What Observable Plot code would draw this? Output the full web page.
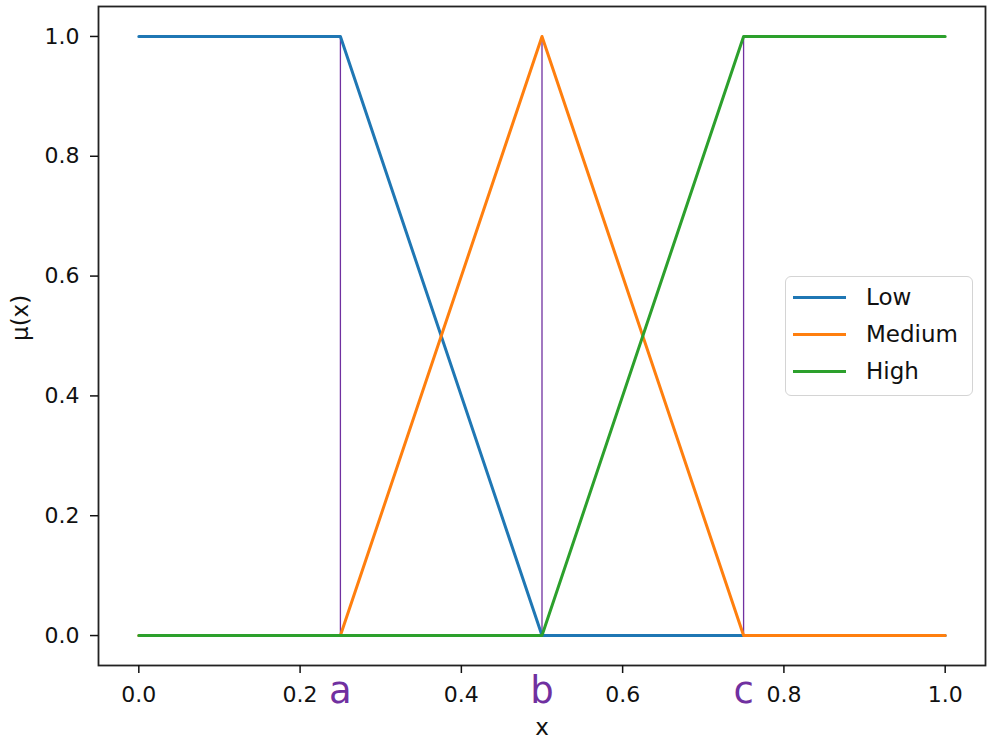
<!DOCTYPE html>
<html>
<head>
<meta charset="utf-8">
<script src="https://cdn.jsdelivr.net/npm/d3@7"></script>
<script src="https://cdn.jsdelivr.net/npm/@observablehq/plot@0.6"></script>
<style>
  body { margin: 0; background: #fff; }
  #wrap { position: relative; width: 995px; height: 742px; font-family: "DejaVu Sans", sans-serif; }
  .legend { position: absolute; left: 785px; top: 276px; width: 188px; height: 120px; box-sizing: border-box;
    border: 1.5px solid #d4d4d4; border-radius: 6px; background: rgba(255,255,255,0.8); }
  .legend .row { position: absolute; left: 7px; height: 26px; margin-top: -13px; display: flex; align-items: center; font-size: 23px; color: #111; white-space: nowrap; }
  .legend .sw { width: 53px; height: 0; border-top: 3px solid; margin-right: 20px; }
</style>
</head>
<body>
<div id="wrap"></div>
<script>
const xTicks = [0, 0.2, 0.4, 0.6, 0.8, 1.0];
const yTicks = [0, 0.2, 0.4, 0.6, 0.8, 1.0];
const seriesNames = ["Low", "Medium", "High"];
const seriesColors = ["#1f77b4", "#ff7f0e", "#2ca02c"];
const lowX = [0, 0.25, 0.5, 1.0];
const lowY = [1, 1, 0, 0];
const mediumX = [0, 0.25, 0.5, 0.75, 1.0];
const mediumY = [0, 0, 1, 0, 0];
const highX = [0, 0.5, 0.75, 1.0];
const highY = [0, 0, 1, 1];
const markerX = [0.25, 0.5, 0.75];
const markerLabels = ["a", "b", "c"];

const rows = [];
[[lowX, lowY], [mediumX, mediumY], [highX, highY]].forEach(([xs, ys], i) => {
  xs.forEach((x, j) => rows.push({series: seriesNames[i], x, y: ys[j]}));
});
const markers = markerX.map((x, i) => ({x, label: markerLabels[i]}));

const chart = Plot.plot({
  width: 995,
  height: 742,
  marginLeft: 98,
  marginRight: 10,
  marginTop: 6,
  marginBottom: 77,
  style: {fontFamily: "DejaVu Sans, sans-serif", fontSize: "23px", color: "#111", background: "#fff"},
  x: {domain: [-0.05, 1.05]},
  y: {domain: [-0.05, 1.05]},
  color: {domain: seriesNames, range: seriesColors},
  marks: [
    Plot.ruleX(markers, {x: "x", y1: 0, y2: 1, stroke: "#7030a0", strokeWidth: 1.3}),
    Plot.line(rows, {x: "x", y: "y", z: "series", stroke: "series", strokeWidth: 3}),
    Plot.frame({stroke: "#222", strokeWidth: 1.8}),
    Plot.axisX({ticks: xTicks, tickFormat: d3.format(".1f"), tickSize: 8, tickPadding: 13, strokeWidth: 1.5, label: null, fontSize: 22}),
    Plot.axisY({ticks: yTicks, tickFormat: d3.format(".1f"), tickSize: 8, tickPadding: 11, strokeWidth: 1.5, label: null, fontSize: 22}),
    Plot.text(markers, {x: "x", text: "label", frameAnchor: "bottom", lineAnchor: "middle", dy: 26, fill: "#7030a0", fontSize: 37}),
    Plot.text(["x"], {frameAnchor: "bottom", lineAnchor: "middle", dy: 62, fontSize: 23, fill: "#111"}),
    Plot.text(["μ(x)"], {frameAnchor: "left", lineAnchor: "middle", dx: -78, dy: 5, rotate: -90, fontSize: 23, fill: "#111"})
  ]
});

const wrap = document.getElementById("wrap");
wrap.appendChild(chart);

const legend = document.createElement("div");
legend.className = "legend";
seriesNames.forEach((name, i) => {
  const row = document.createElement("div");
  row.className = "row";
  row.style.top = (20 + i * 37) + "px";
  const sw = document.createElement("span");
  sw.className = "sw";
  sw.style.borderColor = seriesColors[i];
  row.appendChild(sw);
  row.appendChild(document.createTextNode(name));
  legend.appendChild(row);
});
wrap.appendChild(legend);
</script>
</body>
</html>
